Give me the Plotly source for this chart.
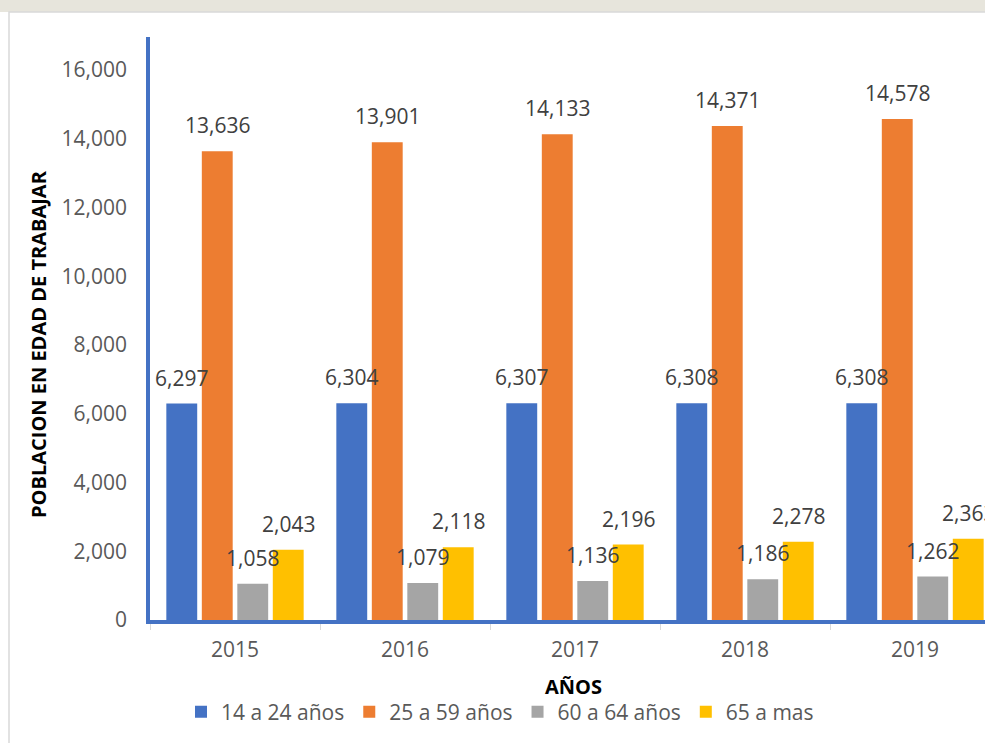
import plotly.graph_objects as go

# Población en edad de trabajar por grupo de edad, 2015-2019
years = ["2015", "2016", "2017", "2018", "2019"]
grupo_14_24 = [6297, 6304, 6307, 6308, 6308]
grupo_25_59 = [13636, 13901, 14133, 14371, 14578]
grupo_60_64 = [1058, 1079, 1136, 1186, 1262]
grupo_65_mas = [2043, 2118, 2196, 2278, 2363]

series_names = ["14 a 24 años", "25 a 59 años", "60 a 64 años", "65 a mas"]
series_values = [grupo_14_24, grupo_25_59, grupo_60_64, grupo_65_mas]
series_colors = ["#4472C4", "#ED7D31", "#A5A5A5", "#FFC000"]

FONT = "Open Sans"
W, H = 985, 743
ML, MT, MB = 150, 37, 123
BARGAP = 0.165
N = len(series_names)
plot_h = H - MT - MB
plot_w = W - ML


def px_x(px):
    return (px - ML) / plot_w


def px_y(py):
    return (H - MB - py) / plot_h


fig = go.Figure()
for name, vals, col in zip(series_names, series_values, series_colors):
    fig.add_trace(go.Bar(
        x=years, y=vals, name=name,
        marker=dict(color=col, line=dict(width=0)),
    ))

# value labels above each bar
slot = (1 - BARGAP) / N
for j, vals in enumerate(series_values):
    for i, v in enumerate(vals):
        fig.add_annotation(
            x=i + (j - (N - 1) / 2) * slot, y=v, xref="x", yref="y",
            text=f"{v:,}", showarrow=False, yanchor="bottom", yshift=10,
            font=dict(family=FONT, size=21, color="#404040"),
        )

# axis titles
fig.add_annotation(
    x=px_x(573), y=px_y(686), xref="paper", yref="paper",
    text="<b>AÑOS</b>", showarrow=False, xanchor="center", yanchor="middle",
    font=dict(family=FONT, size=20, color="#000000"),
)
fig.add_annotation(
    x=px_x(38), y=px_y(344), xref="paper", yref="paper",
    text="<b>POBLACION EN EDAD DE TRABAJAR</b>", showarrow=False, textangle=-90,
    xanchor="center", yanchor="middle",
    font=dict(family=FONT, size=20, color="#000000"),
)

# chart frame and faint banner strip at the top
fig.add_shape(type="rect", xref="paper", yref="paper",
              x0=px_x(0), x1=px_x(W), y0=px_y(0), y1=px_y(12),
              fillcolor="#E7E5DC", line=dict(width=0), layer="below")
fig.add_shape(type="rect", xref="paper", yref="paper",
              x0=px_x(9), x1=px_x(W + 5), y0=px_y(12), y1=px_y(H + 5),
              fillcolor="rgba(0,0,0,0)", line=dict(width=1.5, color="#D9D9D9"),
              layer="below")

fig.update_layout(
    width=W, height=H,
    margin=dict(l=ML, r=0, t=MT, b=MB),
    paper_bgcolor="white", plot_bgcolor="white",
    barmode="group", bargap=BARGAP, bargroupgap=0.13,
    font=dict(family=FONT, size=21, color="#595959"),
    xaxis=dict(
        range=[-0.5, -0.5 + plot_w / 170.0],
        showline=True, linecolor="#4472C4", linewidth=4,
        ticks="outside", tickson="boundaries", tickcolor="#D9D9D9",
        ticklen=6, tickwidth=1, ticklabelstandoff=8,
        tickfont=dict(family=FONT, size=21, color="#595959"),
        showgrid=False, zeroline=False,
    ),
    yaxis=dict(
        range=[0, 16960], tickvals=list(range(0, 16001, 2000)),
        tickformat=",d",
        showline=True, linecolor="#4472C4", linewidth=3.5,
        showgrid=False, zeroline=False, ticks="", ticklabelstandoff=15,
        tickfont=dict(family=FONT, size=21, color="#595959"),
    ),
    showlegend=True,
    legend=dict(
        orientation="h", x=px_x(500), xanchor="center",
        y=px_y(712), yanchor="middle",
        font=dict(family=FONT, size=21, color="#595959"),
        bgcolor="rgba(0,0,0,0)", itemwidth=30, traceorder="normal",
    ),
)

fig.write_html("out.html")
